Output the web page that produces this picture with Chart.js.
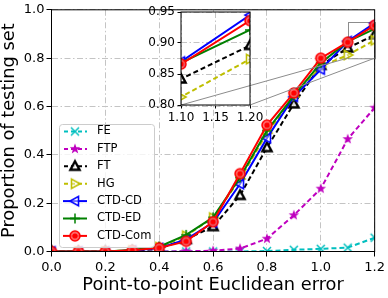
<!DOCTYPE html>
<html>
<head>
<meta charset="utf-8">
<script src="https://cdn.jsdelivr.net/npm/chart.js@4.4.0/dist/chart.umd.min.js"></script>
<style>
  body { margin: 0; background: #fff; }
  #wrap { position: relative; width: 388px; height: 298px; }
  canvas { position: absolute; left: 0; top: 0; }
</style>
</head>
<body>
<div id="wrap">
  <canvas id="main" width="388" height="298"></canvas>
  <canvas id="inset" width="388" height="298"></canvas>
</div>
<script>
// data
var errors = [0, 0.1, 0.2, 0.3, 0.4, 0.5, 0.6, 0.7, 0.8, 0.9, 1.0, 1.1, 1.2];
var names = ['FE', 'FTP', 'FT', 'HG', 'CTD-CD', 'CTD-ED', 'CTD-Com'];
var fe   = [0, 0, 0, 0, 0, 0, 0, 0, 0.002, 0.007, 0.011, 0.016, 0.057];
var ftp  = [0, 0, 0, 0, 0, 0.001, 0.003, 0.012, 0.053, 0.15, 0.26, 0.465, 0.595];
var ft   = [0, 0, 0, 0.003, 0.012, 0.05, 0.103, 0.232, 0.43, 0.611, 0.77, 0.842, 0.896];
var hg   = [0, 0, 0, 0.005, 0.018, 0.065, 0.14, 0.30, 0.49, 0.64, 0.765, 0.813, 0.874];
var ctdCd  = [0, 0, 0, 0.004, 0.014, 0.05, 0.12, 0.279, 0.469, 0.64, 0.753, 0.870, 0.945];
var ctdEd  = [0, 0, 0, 0.006, 0.02, 0.069, 0.141, 0.306, 0.50, 0.645, 0.78, 0.868, 0.921];
var ctdCom = [0, 0, 0, 0.005, 0.015, 0.042, 0.123, 0.322, 0.523, 0.656, 0.80, 0.866, 0.936];
var allSeries = [fe, ftp, ft, hg, ctdCd, ctdEd, ctdCom];

var xTicks = [0, 0.2, 0.4, 0.6, 0.8, 1.0, 1.2];
var xTickLabels = ['0.0', '0.2', '0.4', '0.6', '0.8', '1.0', '1.2'];
var yTicks = [0, 0.2, 0.4, 0.6, 0.8, 1.0];
var yTickLabels = ['0.0', '0.2', '0.4', '0.6', '0.8', '1.0'];
var insetXTicks = [1.10, 1.15, 1.20];
var insetXTickLabels = ['1.10', '1.15', '1.20'];
var insetYTicks = [0.80, 0.85, 0.90, 0.95];
var insetYTickLabels = ['0.80', '0.85', '0.90', '0.95'];

// styles
var colors = ['#00bfbf', '#bf00bf', '#000000', '#bfbf00', '#0000ff', '#008000', '#ff0000'];
var dashes = [[5, 3], [5, 3], [5, 3], [5, 3], [], [], []];
var markerKinds = ['x', 'star', 'triUp', 'triRight', 'triLeft', 'plus', 'circle'];
var FONT = 'DejaVu Sans';

function makeMarker(kind, color) {
  var c = document.createElement('canvas');
  c.width = 16; c.height = 16;
  var g = c.getContext('2d');
  g.translate(8, 8);
  g.strokeStyle = color;
  g.fillStyle = color;
  g.lineWidth = 1.5;
  g.lineJoin = 'miter';
  if (kind == 'x') {
    g.beginPath();
    g.moveTo(-4, -4); g.lineTo(4, 4);
    g.moveTo(-4, 4); g.lineTo(4, -4);
    g.stroke();
  } else if (kind == 'plus') {
    g.beginPath();
    g.moveTo(-5, 0); g.lineTo(5, 0);
    g.moveTo(0, -5); g.lineTo(0, 5);
    g.stroke();
  } else if (kind == 'star') {
    g.beginPath();
    for (var i = 0; i < 10; i++) {
      var r = i % 2 ? 2.3 : 5.5;
      var a = -Math.PI / 2 + i * Math.PI / 5;
      g.lineTo(r * Math.cos(a), r * Math.sin(a));
    }
    g.closePath();
    g.fill();
  } else if (kind == 'circle') {
    g.beginPath(); g.arc(0, 0, 5, 0, Math.PI * 2);
    g.fillStyle = 'rgba(255,90,90,0.9)'; g.fill();
    g.stroke();
    g.beginPath(); g.arc(0, 0, 2.6, 0, Math.PI * 2);
    g.fillStyle = color; g.fill();
  } else {
    var pts;
    if (kind == 'triUp') pts = [[0, -5], [4.6, 3.5], [-4.6, 3.5]];
    if (kind == 'triRight') pts = [[5, 0], [-3.5, 4.6], [-3.5, -4.6]];
    if (kind == 'triLeft') pts = [[-5, 0], [3.5, 4.6], [3.5, -4.6]];
    g.beginPath();
    g.moveTo(pts[0][0], pts[0][1]);
    g.lineTo(pts[1][0], pts[1][1]);
    g.lineTo(pts[2][0], pts[2][1]);
    g.closePath();
    g.fillStyle = kind == 'triUp' ? 'rgba(255,255,255,0.85)' : 'rgba(255,255,255,0.45)';
    g.fill();
    g.lineWidth = kind == 'triUp' ? 2.4 : 1.6;
    g.stroke();
  }
  return c;
}

var markers = markerKinds.map(function(k, i) { return makeMarker(k, colors[i]); });

function buildDatasets() {
  return names.map(function(name, i) {
    return {
      label: name,
      data: errors.map(function(x, j) { return {x: x, y: allSeries[i][j]}; }),
      borderColor: colors[i],
      backgroundColor: colors[i],
      borderWidth: 2,
      borderDash: dashes[i],
      pointStyle: markers[i],
      pointRadius: 5,
      tension: 0,
      clip: 0,
      order: names.length - i
    };
  });
}

function linearAxis(min, max, ticks, labels, fontSize, tickLen, pad, fit) {
  return {
    type: 'linear',
    min: min,
    max: max,
    afterBuildTicks: function(s) { s.ticks = ticks.map(function(v) { return {value: v}; }); },
    afterFit: fit,
    ticks: {
      callback: function(v, i) { return labels[i]; },
      font: {family: FONT, size: fontSize},
      color: '#000',
      padding: pad,
      maxRotation: 0,
      autoSkip: false
    },
    grid: {
      color: '#c4c4c4',
      lineWidth: 1,
      tickLength: tickLen,
      tickColor: '#000',
      tickWidth: 1,
      tickBorderDash: []
    },
    border: {display: false, dash: [6, 2.5, 1.5, 2.5]}
  };
}

var mainX = linearAxis(0, 1.2, xTicks, xTickLabels, 13, 5, 3, function(s) { s.height = 46.5; });
mainX.title = {display: true, text: 'Point-to-point Euclidean error', color: '#000',
  font: {family: FONT, size: 17.8, lineHeight: 1}, padding: {top: 0, bottom: 3.3}};
var mainY = linearAxis(0, 1, yTicks, yTickLabels, 13, 5, 2, function(s) { s.width = 51.5; });
mainY.title = {display: true, text: 'Proportion of testing set', color: '#000',
  font: {family: FONT, size: 17.8, lineHeight: 1}, padding: {top: 0.6, bottom: 0}};

var mainPlugin = {
  id: 'mainExtras',
  beforeDatasetsDraw: function(chart) {
    // zoom rectangle
    var ctx = chart.ctx, x = chart.scales.x, y = chart.scales.y;
    ctx.save();
    ctx.strokeStyle = '#8c8c8c';
    ctx.lineWidth = 1;
    var x1 = x.getPixelForValue(1.1), x2 = x.getPixelForValue(1.2);
    var y1 = y.getPixelForValue(0.95), y2 = y.getPixelForValue(0.8);
    ctx.strokeRect(Math.round(x1) + 0.5, Math.round(y1) + 0.5, x2 - x1, y2 - y1);
    ctx.restore();
  },
  afterDraw: function(chart) {
    var ctx = chart.ctx, a = chart.chartArea;
    ctx.save();
    ctx.strokeStyle = '#000';
    ctx.lineWidth = 1;
    ctx.strokeRect(a.left, a.top, a.right - a.left, a.bottom - a.top);

    // legend
    ctx.beginPath();
    ctx.roundRect(59.5, 124.5, 95, 123, 3);
    ctx.fillStyle = 'rgba(255,255,255,0.8)';
    ctx.fill();
    ctx.strokeStyle = '#cccccc';
    ctx.stroke();
    for (var i = 0; i < names.length; i++) {
      var ry = 131.5 + 17.4 * i;
      ctx.beginPath();
      ctx.strokeStyle = colors[i];
      ctx.lineWidth = 2;
      ctx.setLineDash(dashes[i].length ? [4, 3] : []);
      ctx.lineDashOffset = dashes[i].length ? -1 : 0;
      ctx.moveTo(63, ry); ctx.lineTo(87, ry);
      ctx.stroke();
      ctx.setLineDash([]);
      ctx.drawImage(markers[i], 75 - 8, ry - 8);
      ctx.fillStyle = '#000';
      ctx.font = '11.5px "' + FONT + '"';
      ctx.textBaseline = 'middle';
      ctx.fillText(names[i], 97, ry);
    }
    ctx.restore();
  }
};

var mainChart = new Chart(document.getElementById('main'), {
  type: 'line',
  data: {datasets: buildDatasets()},
  options: {
    responsive: false,
    animation: false,
    events: [],
    devicePixelRatio: 1,
    layout: {padding: {left: 0, top: 5.5, right: 10, bottom: 0}},
    plugins: {legend: {display: false}, tooltip: {enabled: false}},
    scales: {x: mainX, y: mainY}
  },
  plugins: [mainPlugin]
});

var insetX = linearAxis(1.1, 1.2, insetXTicks, insetXTickLabels, 12, 3.5, 2, function(s) { s.height = 193; });
var insetY = linearAxis(0.8, 0.95, insetYTicks, insetYTickLabels, 12, 3.5, 2.5, function(s) { s.width = 181; });

var insetPlugin = {
  id: 'insetExtras',
  beforeDraw: function(chart) {
    var ctx = chart.ctx, a = chart.chartArea;
    ctx.save();
    ctx.fillStyle = '#fff';
    ctx.fillRect(a.left, a.top, a.right - a.left, a.bottom - a.top);
    ctx.restore();
  },
  beforeDatasetsDraw: function(chart) {
    // connectors from the inset to the zoomed box
    var ctx = chart.ctx, a = chart.chartArea;
    var mx = mainChart.scales.x, my = mainChart.scales.y;
    ctx.save();
    ctx.strokeStyle = '#8c8c8c';
    ctx.lineWidth = 1;
    ctx.beginPath();
    ctx.moveTo(a.left, a.bottom);
    ctx.lineTo(mx.getPixelForValue(1.1), my.getPixelForValue(0.8));
    ctx.moveTo(a.right, a.bottom);
    ctx.lineTo(mx.getPixelForValue(1.2), my.getPixelForValue(0.8));
    ctx.stroke();
    ctx.restore();
  },
  afterDraw: function(chart) {
    var ctx = chart.ctx, a = chart.chartArea;
    ctx.save();
    ctx.strokeStyle = '#000';
    ctx.lineWidth = 1;
    ctx.strokeRect(a.left, a.top, a.right - a.left, a.bottom - a.top);
    ctx.restore();
  }
};

var insetChart = new Chart(document.getElementById('inset'), {
  type: 'line',
  data: {datasets: buildDatasets()},
  options: {
    responsive: false,
    animation: false,
    events: [],
    devicePixelRatio: 1,
    layout: {padding: {left: 0, top: 12, right: 138, bottom: 0}},
    plugins: {legend: {display: false}, tooltip: {enabled: false}},
    scales: {x: insetX, y: insetY}
  },
  plugins: [insetPlugin]
});
</script>
</body>
</html>
